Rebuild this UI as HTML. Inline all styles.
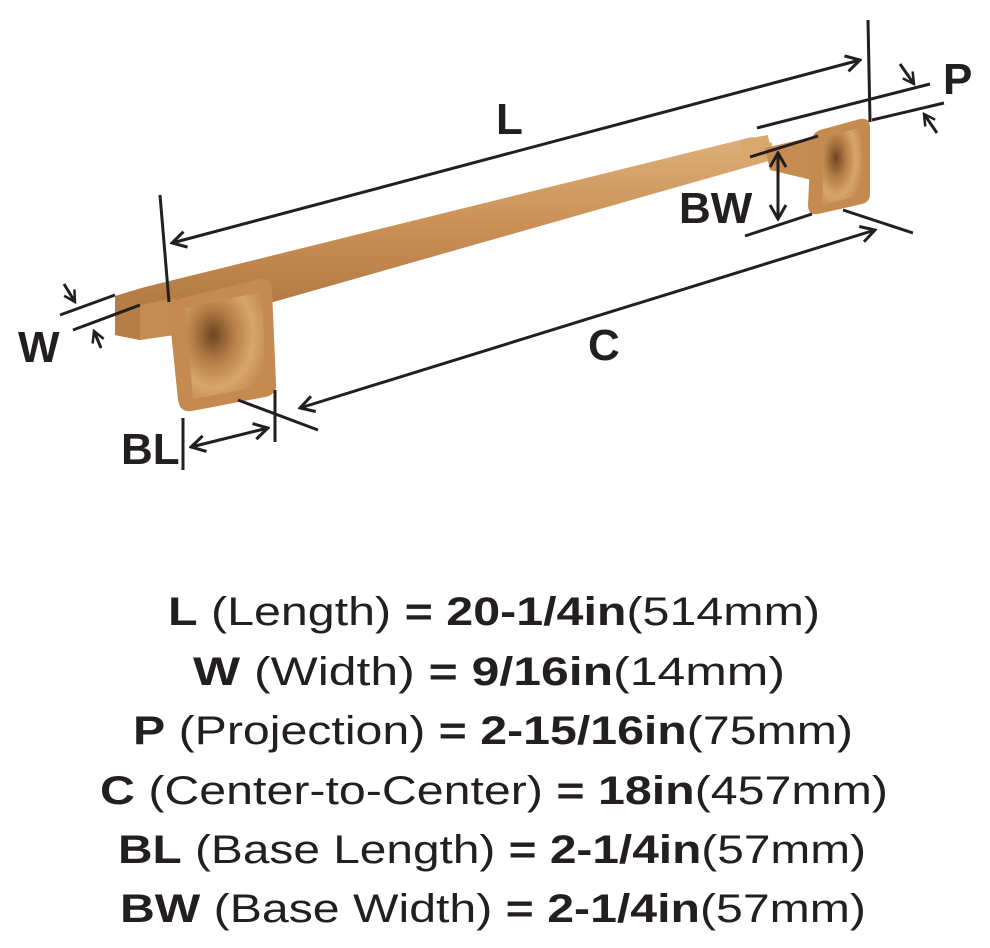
<!DOCTYPE html>
<html><head><meta charset="utf-8"><style>
html,body{margin:0;padding:0;background:#fff;}
svg{display:block;}
text{font-family:"Liberation Sans",sans-serif;fill:#231f20;}
</style></head><body>
<svg width="990" height="948" viewBox="0 0 990 948" xmlns="http://www.w3.org/2000/svg">
<defs>
<linearGradient id="bar" x1="0" y1="0" x2="0" y2="1">
<stop offset="0" stop-color="#ddb07a"/><stop offset="0.45" stop-color="#c98f55"/><stop offset="1" stop-color="#a8703d"/>
</linearGradient>
<radialGradient id="plate" cx="0.35" cy="0.4" r="0.7">
<stop offset="0" stop-color="#6e4423"/><stop offset="0.35" stop-color="#b47c45"/><stop offset="0.7" stop-color="#d7a66c"/><stop offset="1" stop-color="#c48a50"/>
</radialGradient>
<marker id="ah" viewBox="0 0 20 20" refX="18" refY="10" markerWidth="20" markerHeight="20" markerUnits="userSpaceOnUse" orient="auto-start-reverse">
<path d="M4,2 L18,10 L4,18" fill="none" stroke="#231f20" stroke-width="3"/>
</marker>
<marker id="as" viewBox="0 0 16 16" refX="14" refY="8" markerWidth="16" markerHeight="16" markerUnits="userSpaceOnUse" orient="auto-start-reverse">
<path d="M3,2 L14,8 L3,14" fill="none" stroke="#231f20" stroke-width="2.5"/>
</marker>
</defs>
<!-- bar -->
<polygon points="115,296 145,287 752,137 772,143 772,160 140,340 115,335" fill="url(#bar)"/>
<polygon points="115,296 140,292 140,340 115,335" fill="#b57c46"/>
<polygon points="740,140 768,135 772,160 745,165" fill="#d9a86d"/>
<polygon points="140,305 175,298 175,335 140,340" fill="#c48b52"/>
<path d="M175,300 Q168,302 169,312 L178,400 Q180,413 192,411 L265,397 Q277,395 276,383 L272,290 Q271,277 259,279 Z" fill="#c48a50"/>
<path d="M185,308 L262,292 L266,385 L193,399 Z" fill="url(#plate)"/>
<polygon points="765,148 812,137 812,180 770,170" fill="#c48b52"/>
<path d="M820,130 Q812,133 811,142 L808,205 Q808,216 818,214 L862,204 Q870,202 870,194 L870,128 Q870,117 860,119 Z" fill="#c48a50"/>
<path d="M824,138 L862,127 L862,195 L822,205 Z" fill="url(#plate)"/>
<g stroke="#231f20" stroke-width="3" fill="none">
<line x1="160" y1="195" x2="169" y2="302"/>
<line x1="868" y1="20" x2="870" y2="122"/>
<line x1="172" y1="243" x2="860" y2="60" marker-start="url(#ah)" marker-end="url(#ah)"/>
<line x1="757" y1="128" x2="930" y2="84"/>
<line x1="872" y1="120" x2="944" y2="103"/>
<line x1="900" y1="64" x2="914" y2="84" marker-end="url(#as)"/>
<line x1="937" y1="133" x2="924" y2="114" marker-end="url(#as)"/>
<line x1="750" y1="157" x2="818" y2="136"/>
<line x1="745" y1="236" x2="812" y2="214"/>
<line x1="778" y1="153" x2="778" y2="219" marker-start="url(#ah)" marker-end="url(#ah)"/>
<line x1="843" y1="210" x2="913" y2="233"/>
<line x1="300" y1="408" x2="875" y2="230" marker-start="url(#ah)" marker-end="url(#ah)"/>
<line x1="238" y1="400" x2="318" y2="430"/>
<line x1="275" y1="390" x2="275" y2="442"/>
<line x1="183" y1="418" x2="183" y2="470"/>
<line x1="191" y1="447" x2="268" y2="428" marker-start="url(#ah)" marker-end="url(#ah)"/>
<line x1="60" y1="315" x2="115" y2="295"/>
<line x1="73" y1="330" x2="140" y2="305"/>
<line x1="64" y1="284" x2="75" y2="302" marker-end="url(#as)"/>
<line x1="101" y1="348" x2="94" y2="331" marker-end="url(#as)"/>
</g>
<g font-weight="bold" font-size="44">
<text x="496" y="134">L</text>
<text x="18" y="362">W</text>
<text x="943" y="94">P</text>
<text x="588" y="360">C</text>
<text x="121" y="464">BL</text>
<text x="679" y="223">BW</text>
</g>
<g font-size="40">
<text x="168" y="625" textLength="652" lengthAdjust="spacingAndGlyphs"><tspan font-weight="bold">L</tspan> (Length) <tspan font-weight="bold">= 20-1/4in</tspan>(514mm)</text>
<text x="193" y="685" textLength="592" lengthAdjust="spacingAndGlyphs"><tspan font-weight="bold">W</tspan> (Width) <tspan font-weight="bold">= 9/16in</tspan>(14mm)</text>
<text x="133" y="744" textLength="720" lengthAdjust="spacingAndGlyphs"><tspan font-weight="bold">P</tspan> (Projection) <tspan font-weight="bold">= 2-15/16in</tspan>(75mm)</text>
<text x="100" y="804" textLength="788" lengthAdjust="spacingAndGlyphs"><tspan font-weight="bold">C</tspan> (Center-to-Center) <tspan font-weight="bold">= 18in</tspan>(457mm)</text>
<text x="118" y="863" textLength="748" lengthAdjust="spacingAndGlyphs"><tspan font-weight="bold">BL</tspan> (Base Length) <tspan font-weight="bold">= 2-1/4in</tspan>(57mm)</text>
<text x="120" y="922" textLength="746" lengthAdjust="spacingAndGlyphs"><tspan font-weight="bold">BW</tspan> (Base Width) <tspan font-weight="bold">= 2-1/4in</tspan>(57mm)</text>
</g>
</svg>
</body></html>
